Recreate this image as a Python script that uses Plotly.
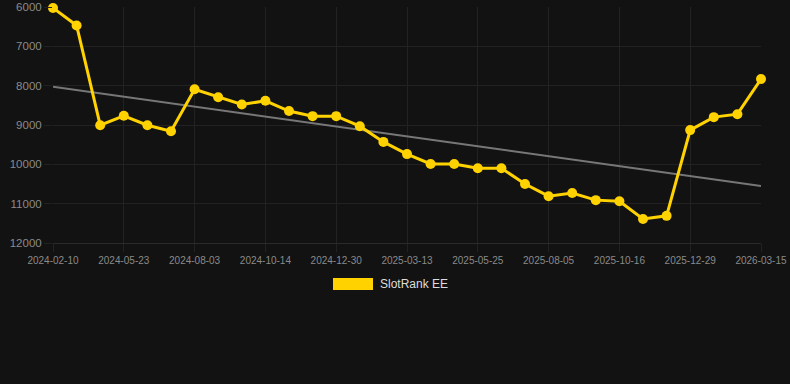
import plotly.graph_objects as go

dates = [
    "2024-02-10", "2024-03-05", "2024-03-29", "2024-05-23", "2024-06-16", "2024-07-10",
    "2024-08-03", "2024-08-27", "2024-09-20", "2024-10-14", "2024-11-08", "2024-12-04",
    "2024-12-30", "2025-01-23", "2025-02-17", "2025-03-13", "2025-04-06", "2025-05-01",
    "2025-05-25", "2025-06-18", "2025-07-12", "2025-08-05", "2025-08-29", "2025-09-22",
    "2025-10-16", "2025-11-09", "2025-12-04", "2025-12-29", "2026-01-23", "2026-02-17",
    "2026-03-15",
]
ranks = [
    6025, 6470, 9005, 8765, 9005, 9160,
    8090, 8295, 8480, 8385, 8645, 8775,
    8775, 9030, 9430, 9740, 9990, 9990,
    10100, 10100, 10500, 10810, 10730, 10910,
    10940, 11390, 11310, 9130, 8800, 8725,
    7830,
]
trend_x = [dates[0], dates[-1]]
trend_y = [8030, 10550]
tick_labels = dates[::3]
y_ticks = [6000, 7000, 8000, 9000, 10000, 11000, 12000]
series_name = "SlotRank EE"

BG = "#121212"
GOLD = "#FFD200"
GRID = "#222222"
TICK = "#8a8a8a"

fig = go.Figure()
fig.add_trace(go.Scatter(
    x=trend_x, y=trend_y, mode="lines",
    line=dict(color="#777777", width=2),
    hoverinfo="skip", showlegend=False,
))
fig.add_trace(go.Scatter(
    x=dates, y=ranks, mode="lines+markers", name=series_name,
    line=dict(color=GOLD, width=3),
    marker=dict(color=GOLD, size=10),
    cliponaxis=False, showlegend=False,
))

# legend drawn manually (filled box + label)
fig.add_shape(type="rect", xref="paper", yref="paper",
              x0=(333 - 53) / 708, x1=(373 - 53) / 708,
              y0=-(290 - 243) / 236, y1=-(278 - 243) / 236,
              fillcolor=GOLD, line=dict(width=0))
fig.add_annotation(xref="paper", yref="paper",
                   x=(378 - 53) / 708, y=-(284 - 243) / 236,
                   xanchor="left", yanchor="middle", showarrow=False,
                   text=series_name, font=dict(size=12, color="#dddddd"))

fig.update_layout(
    width=790, height=384,
    margin=dict(l=53, r=29, t=7, b=141, autoexpand=False),
    paper_bgcolor=BG, plot_bgcolor=BG,
    font=dict(family="Liberation Sans, Arial, sans-serif", color=TICK),
    showlegend=False,
    xaxis=dict(
        type="category", categoryorder="array", categoryarray=dates,
        range=[0, len(dates) - 1], automargin=False,
        tickmode="array", tickvals=tick_labels, ticktext=tick_labels,
        tickfont=dict(size=10, color=TICK),
        showgrid=True, gridcolor=GRID, gridwidth=1,
        ticks="outside", ticklen=8, tickcolor=GRID,
        showline=True, linecolor="#2a2a2a", linewidth=1, zeroline=False,
    ),
    yaxis=dict(
        range=[12000, 6000], automargin=False,
        tickmode="array", tickvals=y_ticks, ticktext=[str(v) for v in y_ticks],
        tickfont=dict(size=11.5, color=TICK),
        showgrid=True, gridcolor=GRID, gridwidth=1,
        ticks="outside", ticklen=8, tickcolor=GRID,
        showline=False, zeroline=False,
    ),
)

fig.write_html("out.html")
